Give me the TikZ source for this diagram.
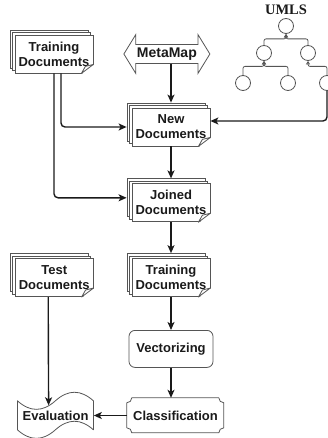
\documentclass[tikz,border=0pt]{standalone}
\usepackage{fontspec}
\setmainfont{Liberation Sans}
\newfontfamily\umlsfont{Liberation Serif}
\usepackage{tikz}
\usetikzlibrary{arrows.meta,positioning,calc,shapes.arrows,shadows}
\definecolor{FlowInk}{HTML}{1A1A1A}
\definecolor{FlowEdge}{HTML}{555555}

\begin{document}
\begin{tikzpicture}[
  x=1pt, y=-1pt,
  docs/.style={draw=FlowEdge, fill=white, line width=0.8pt, minimum width=78pt, minimum height=38pt,
    inner sep=1pt, align=center, font=\fontsize{13}{15}\selectfont\bfseries, text=FlowInk,
    copy shadow={shadow xshift=-5pt, shadow yshift=5pt, draw=FlowEdge, fill=white, line width=0.8pt},
    copy shadow={shadow xshift=-2.5pt, shadow yshift=2.5pt, draw=FlowEdge, fill=white, line width=0.8pt}},
  metabox/.style={double arrow, draw=FlowEdge, fill=white, line width=0.8pt, double arrow tip angle=117,
    double arrow head extend=9.5pt, minimum width=39pt, minimum height=86pt, inner xsep=0pt, inner ysep=2.5pt,
    font=\fontsize{14}{16}\selectfont\bfseries, text=FlowInk},
  procbox/.style={draw=FlowEdge, line width=0.8pt, rounded corners=6pt, minimum width=84pt, minimum height=37pt,
    font=\fontsize{13}{15}\selectfont\bfseries, text=FlowInk},
  plainbox/.style={minimum width=#1, inner sep=0pt, font=\fontsize{13}{15}\selectfont\bfseries, text=FlowInk},
  outline/.style={draw=FlowEdge, line width=0.8pt, line join=round},
  leaf/.style={circle, draw=FlowEdge, line width=0.8pt, minimum size=15pt, inner sep=0pt},
  treeline/.style={draw=FlowEdge, line width=0.8pt, rounded corners=2pt, -{Triangle[open, length=3.5pt, width=4pt]}},
  arrow/.style={-{Stealth[length=8pt, width=7pt, inset=2pt]}, line width=1.4pt, draw=FlowInk}
]
\useasboundingbox (0,0) rectangle (328,438);

% input side
\node[docs] (train) at (54,54) {Training\\Documents};
\node[metabox, right=30pt of train] (meta) {MetaMap};

% UMLS hierarchy
\node[font=\umlsfont\fontsize{14.5}{16}\selectfont\bfseries, text=FlowInk] (umls) at (286,10) {UMLS};
\node[leaf] (root) at (286,26) {};
\node[leaf] (l2a) at (264,53) {};
\node[leaf] (l2b) at (308,53) {};
\node[leaf] (l3a) at (243,83) {};
\node[leaf] (l3b) at (288,83) {};
\node[leaf] (l3c) at (327,83) {};
\draw[treeline] (l2a.north) |- ([yshift=-5pt]root.south) -- (root.south);
\draw[treeline] (l2b.north) |- ([yshift=-5pt]root.south) -- (root.south);
\draw[treeline] (l3a.north) |- ([yshift=-5.5pt]l2a.south) -- (l2a.south);
\draw[treeline] (l3b.north) |- ([yshift=-5.5pt]l2a.south) -- (l2a.south);
\draw[treeline] (l3c.north) |- ([yshift=-5.5pt]l2b.south) -- (l2b.south);

% main column
\node[docs] (new) at (171,127) {New\\Documents};
\node[docs, below=37pt of new] (joined) {Joined\\Documents};
\node[docs, below=36pt of joined] (train2) {Training\\Documents};
\node[procbox, below=33pt of train2] (vect) {Vectorizing};
\node[plainbox=97pt, minimum height=35pt, below=30pt of vect, xshift=4.5pt] (cls) {Classification};
\draw[outline, shift={(cls.north west)}] (5,0) -- (92,0) .. controls (92,2.8) and (94.2,5) .. (97,5)
  -- (97,30) .. controls (94.2,30) and (92,32.2) .. (92,35) -- (5,35) .. controls (5,32.2) and (2.8,30) .. (0,30)
  -- (0,5) .. controls (2.8,5) and (5,2.8) .. (5,0) -- cycle;

% test side
\node[docs, left=38pt of train2] (test) {Test\\Documents};
\node[plainbox=76pt, minimum height=48pt, left=33pt of cls] (eval) {Evaluation};
\draw[outline, shift={(eval.north west)}] (0,9.5) .. controls (12.7,20.9) and (25.3,20.9) .. (38,9.5)
  .. controls (50.7,-1.9) and (63.3,-1.9) .. (76,9.5) -- (76,38.5) .. controls (63.3,27.1) and (50.7,27.1) .. (38,38.5)
  .. controls (25.3,49.9) and (12.7,49.9) .. (0,38.5) -- cycle;

% folded corners of the document stacks
\foreach \d in {train,new,joined,train2,test}{
  \fill[white] ([xshift=-12pt,yshift=-1pt]\d.south east) -- ([xshift=1pt,yshift=-1pt]\d.south east)
    -- ([xshift=1pt,yshift=9pt]\d.south east) -- cycle;
  \draw[outline, fill=white] ([xshift=-12pt]\d.south east) -- ([yshift=9pt]\d.south east)
    -- ([xshift=-8pt,yshift=7pt]\d.south east) -- cycle;
}

% connectors
\draw[arrow] (meta.south -| new.north) -- ([yshift=5pt]new.north);
\draw[arrow, rounded corners=4pt] ([xshift=7pt]train.south) |- ([xshift=-5pt]new.west);
\draw[arrow, rounded corners=4pt] (train.south) |- ([xshift=-5pt,yshift=5pt]joined.west);
\draw[arrow, rounded corners=4pt] (l3c.south) |- ([yshift=6pt]new.east);
\draw[arrow] (new.south) -- ([yshift=5pt]joined.north);
\draw[arrow] (joined.south) -- ([yshift=5pt]train2.north);
\draw[arrow] (train2.south) -- (vect.north);
\draw[arrow] (vect.south) -- (vect.south |- cls.north);
\draw[arrow] (cls.west) -- (eval.east);
\draw[arrow] ($(test.south)+(-6,0)$) -- ($(eval.north)+(-7,14)$);
\end{tikzpicture}
\end{document}
